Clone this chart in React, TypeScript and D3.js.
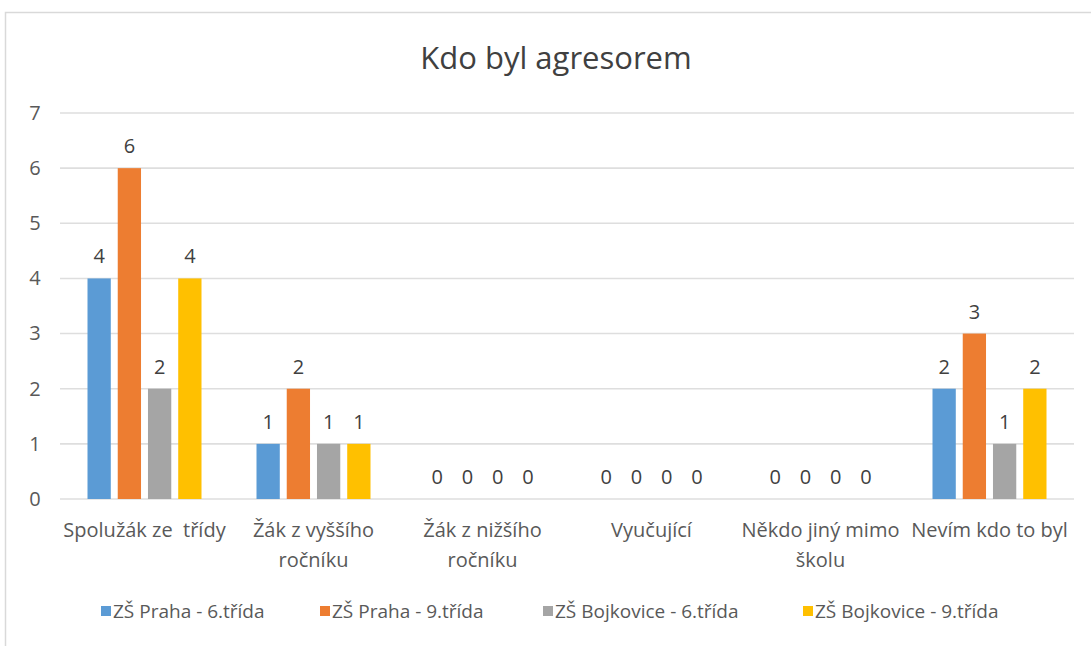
import { useEffect, useRef } from "react";
import * as d3 from "d3";

const W = 1091;
const H = 646;
const M = { top: 113, right: 17, bottom: 147, left: 60 };

const title = "Kdo byl agresorem";
const categories = [
  "Spolužák ze  třídy",
  "Žák z vyššího\nročníku",
  "Žák z nižšího\nročníku",
  "Vyučující",
  "Někdo jiný mimo\nškolu",
  "Nevím kdo to byl",
];
const seriesNames = [
  "ZŠ Praha - 6.třída",
  "ZŠ Praha - 9.třída",
  "ZŠ Bojkovice - 6.třída",
  "ZŠ Bojkovice - 9.třída",
];
const seriesValues = [
  [4, 1, 0, 0, 0, 2],
  [6, 2, 0, 0, 0, 3],
  [2, 1, 0, 0, 0, 1],
  [4, 1, 0, 0, 0, 2],
];
const colors = ["#5B9BD5", "#ED7D31", "#A5A5A5", "#FFC000"];
const yTicks = [0, 1, 2, 3, 4, 5, 6, 7];

const FONT = "'Open Sans', sans-serif";
const FS = 20;

export default function App() {
  const svgRef = useRef<SVGSVGElement>(null);

  useEffect(() => {
    if (!svgRef.current) return;
    const root = d3.select(svgRef.current);
    root.selectAll("*").remove();

    const iw = W - M.left - M.right;
    const ih = H - M.top - M.bottom;
    const groupW = 114;

    root
      .append("rect")
      .attr("x", 5.5)
      .attr("y", 12.5)
      .attr("width", 1200)
      .attr("height", 700)
      .attr("fill", "#fff")
      .attr("stroke", "#d9d9d9")
      .attr("stroke-width", 1.5);

    root
      .append("text")
      .attr("x", 556)
      .attr("y", 69)
      .attr("text-anchor", "middle")
      .attr("font-family", FONT)
      .attr("font-size", 31)
      .attr("fill", "#404040")
      .text(title);

    const g = root.append("g").attr("transform", `translate(${M.left},${M.top})`);

    const x0 = d3.scaleBand<number>().domain(d3.range(categories.length)).range([0, iw]);
    const x1 = d3
      .scaleBand<number>()
      .domain(d3.range(seriesNames.length))
      .range([0, groupW])
      .paddingInner(0.23);
    const groupOffset = (x0.bandwidth() - groupW) / 2;
    const y = d3.scaleLinear().domain([0, 7]).range([ih, 0]);

    // gridlines
    g.append("g")
      .selectAll("line")
      .data(yTicks)
      .join("line")
      .attr("x1", 0)
      .attr("x2", iw)
      .attr("y1", (d) => y(d))
      .attr("y2", (d) => y(d))
      .attr("stroke", "#dedede")
      .attr("stroke-width", 1.6);

    // y axis labels
    g.append("g")
      .call(
        d3
          .axisLeft(y)
          .tickValues(yTicks)
          .tickFormat(d3.format("d"))
          .tickSize(0)
          .tickPadding(20)
      )
      .call((s) => s.select(".domain").remove())
      .call((s) =>
        s
          .selectAll("text")
          .attr("fill", "#595959")
          .attr("font-family", FONT)
          .attr("font-size", FS)
          .attr("text-anchor", "middle")
          .attr("x", -25)
      );

    // bars + value labels
    seriesValues.forEach((vals, si) => {
      g.append("g")
        .selectAll("rect")
        .data(vals)
        .join("rect")
        .attr("x", (_, i) => x0(i)! + groupOffset + x1(si)!)
        .attr("y", (d) => y(d))
        .attr("width", x1.bandwidth())
        .attr("height", (d) => y(0) - y(d))
        .attr("fill", colors[si]);

      g.append("g")
        .selectAll("text")
        .data(vals)
        .join("text")
        .attr("x", (_, i) => x0(i)! + groupOffset + x1(si)! + x1.bandwidth() / 2)
        .attr("y", (d) => y(d) - 15)
        .attr("text-anchor", "middle")
        .attr("font-family", FONT)
        .attr("font-size", FS)
        .attr("fill", "#404040")
        .text((d) => d);
    });

    // category labels
    const cat = g
      .append("g")
      .selectAll("text")
      .data(categories)
      .join("text")
      .attr("x", (_, i) => x0(i)! + x0.bandwidth() / 2)
      .attr("y", ih + 38)
      .attr("text-anchor", "middle")
      .attr("font-family", FONT)
      .attr("font-size", FS)
      .attr("fill", "#595959");
    cat.each(function (d) {
      const t = d3.select(this);
      d.split("\n").forEach((line, li) => {
        t.append("tspan")
          .attr("x", t.attr("x"))
          .attr("dy", li === 0 ? 0 : 30)
          .attr("xml:space", "preserve")
          .text(line);
      });
    });

    // legend
    const legendX = [101, 320, 543, 803];
    const lg = root.append("g").attr("transform", `translate(0,611)`);
    seriesNames.forEach((name, i) => {
      lg.append("rect")
        .attr("x", legendX[i])
        .attr("y", -5)
        .attr("width", 10)
        .attr("height", 10)
        .attr("fill", colors[i]);
      lg.append("text")
        .attr("x", legendX[i] + 12)
        .attr("y", 7)
        .attr("font-family", FONT)
        .attr("font-size", 19)
        .attr("fill", "#595959")
        .text(name);
    });
  }, []);

  return (
    <svg
      ref={svgRef}
      width={W}
      height={H}
      viewBox={`0 0 ${W} ${H}`}
      style={{ position: "absolute", left: 0, top: 0 }}
    />
  );
}
